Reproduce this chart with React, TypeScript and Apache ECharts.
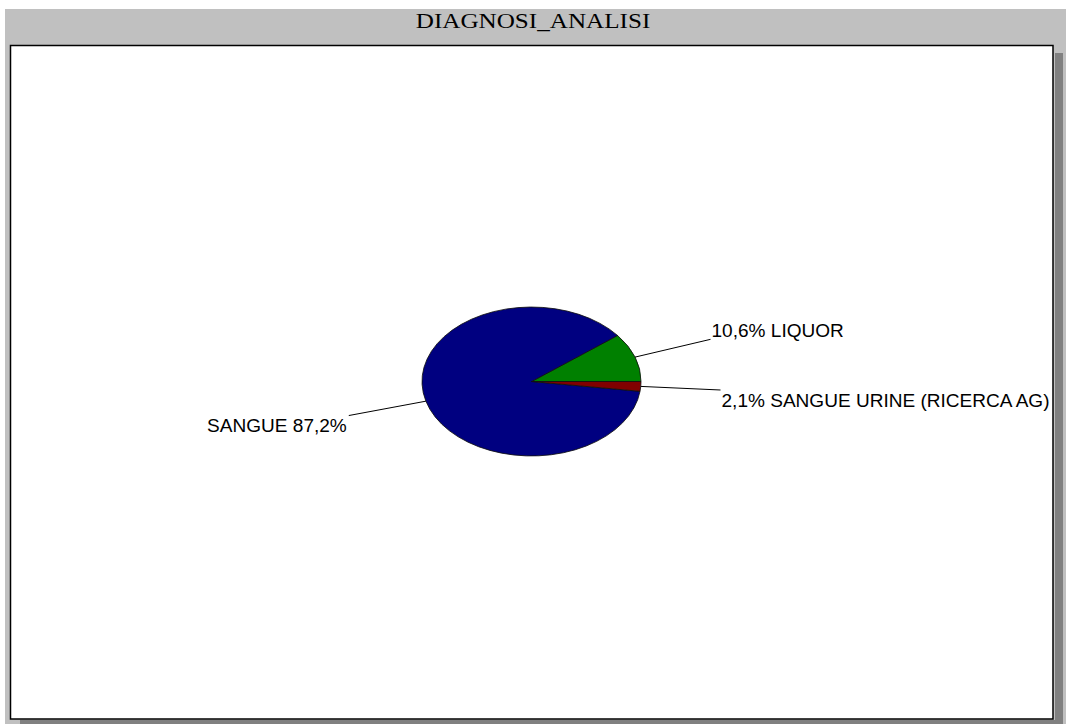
import React, { useEffect, useRef } from "react";
import * as echarts from "echarts";

const TITLE = "DIAGNOSI_ANALISI";
const categories = ["LIQUOR", "SANGUE", "SANGUE URINE (RICERCA AG)"];
const values = [10.6, 87.2, 2.1];
const colors = ["#008000", "#000080", "#800000"];

const CX = 531.5;
const CY = 381.5;
const RX = 109.5;
const RY = 74.5;
const LEADER = 1.73;
const LABEL_FONT = "Liberation Sans, Arial, sans-serif";

const fmt = (v: number) => v.toFixed(1).replace(".", ",") + "%";

export default function App() {
  const ref = useRef<HTMLDivElement>(null);
  useEffect(() => {
    if (!ref.current) return;
    const chart = echarts.init(ref.current, null, { renderer: "svg" });
    const total = values.reduce((a, b) => a + b, 0);
    const starts: number[] = [];
    let acc = 0;
    values.forEach((v) => {
      starts.push(acc);
      acc += v;
    });

    const renderItem = (params: any, api: any) => {
      const i = params.dataIndex;
      const v = api.value(0);
      const a0 = (starts[i] / total) * Math.PI * 2;
      const a1 = ((starts[i] + v) / total) * Math.PI * 2;
      const m = (a0 + a1) / 2;
      const cosm = Math.cos(m);
      const sinm = Math.sin(m);
      const ex = CX + RX * cosm;
      const ey = CY - RY * sinm;
      const lx = CX + LEADER * RX * cosm;
      const ly = CY - LEADER * RY * sinm;
      const right = cosm >= 0;
      const text = right ? fmt(v) + " " + categories[i] : categories[i] + " " + fmt(v);
      return {
        type: "group",
        children: [
          {
            type: "group",
            x: CX,
            y: CY,
            scaleY: RY / RX,
            children: [
              {
                type: "sector",
                shape: {
                  cx: 0,
                  cy: 0,
                  r0: 0,
                  r: RX,
                  startAngle: -a0,
                  endAngle: -a1,
                  clockwise: false,
                },
                style: {
                  fill: colors[i],
                  stroke: "#111",
                  lineWidth: 1,
                  strokeNoScale: true,
                },
              },
            ],
          },
          {
            type: "line",
            shape: { x1: ex, y1: ey, x2: lx, y2: ly },
            style: { stroke: "#000", lineWidth: 1 },
          },
          {
            type: "text",
            x: right ? lx + 1 : lx - 2,
            y: ly + 1,
            scaleX: 1.03,
            style: {
              text,
              fill: "#000",
              fontSize: 18.5,
              fontFamily: LABEL_FONT,
              align: right ? "left" : "right",
              verticalAlign: sinm > 0 ? "bottom" : "top",
            },
          },
        ],
      };
    };

    chart.setOption({
      animation: false,
      graphic: [
        { type: "rect", z: -10, shape: { x: 5, y: 9, width: 1061, height: 715 }, style: { fill: "#c0c0c0" } },
        { type: "rect", z: -9, shape: { x: 1055, y: 53, width: 8, height: 671 }, style: { fill: "#808080" } },
        { type: "rect", z: -9, shape: { x: 20, y: 720, width: 1043, height: 4 }, style: { fill: "#808080" } },
        {
          type: "rect",
          z: -8,
          shape: { x: 10.5, y: 45.5, width: 1042.5, height: 673.5 },
          style: { fill: "#ffffff", stroke: "#000", lineWidth: 1.5 },
        },
        {
          type: "text",
          z: -7,
          x: 533,
          y: 21,
          scaleX: 1.17,
          style: {
            text: TITLE,
            fill: "#000",
            fontSize: 21.5,
            fontFamily: "Liberation Serif, Times New Roman, serif",
            align: "center",
            verticalAlign: "middle",
          },
        },
      ],
      series: [
        {
          type: "custom",
          coordinateSystem: "none",
          z: 10,
          renderItem,
          data: values.map((v) => [v]),
        },
      ],
    });
    return () => chart.dispose();
  }, []);
  return (
    <div
      ref={ref}
      style={{ position: "absolute", left: 0, top: 0, width: 1066, height: 724 }}
    />
  );
}
